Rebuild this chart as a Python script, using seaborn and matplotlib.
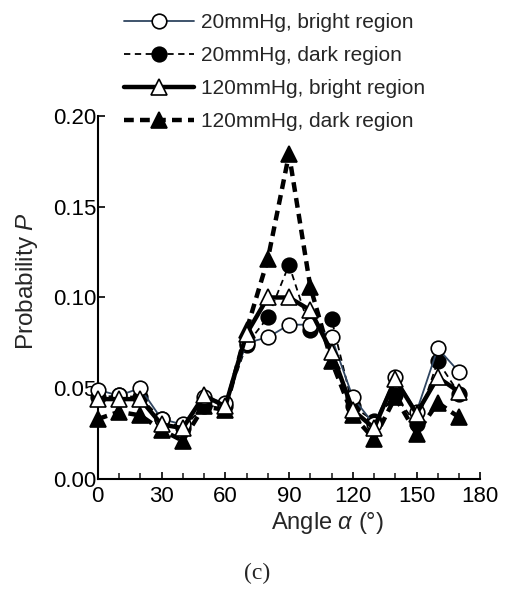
import numpy as np
import pandas as pd
import matplotlib
matplotlib.use("Agg")
import matplotlib.pyplot as plt
import seaborn as sns

angles = [0, 10, 20, 30, 40, 50, 60, 70, 80, 90, 100, 110, 120, 130, 140, 150, 160, 170]
p20_bright = [0.049, 0.046, 0.050, 0.033, 0.030, 0.045, 0.042, 0.075, 0.078, 0.085, 0.085, 0.078, 0.045, 0.030, 0.056, 0.037, 0.072, 0.059]
p20_dark = [0.045, 0.046, 0.045, 0.033, 0.028, 0.040, 0.040, 0.074, 0.089, 0.118, 0.082, 0.088, 0.040, 0.032, 0.046, 0.030, 0.065, 0.047]
p120_bright = [0.044, 0.044, 0.044, 0.030, 0.028, 0.046, 0.040, 0.080, 0.100, 0.100, 0.093, 0.070, 0.038, 0.028, 0.055, 0.036, 0.056, 0.048]
p120_dark = [0.033, 0.037, 0.035, 0.027, 0.021, 0.040, 0.038, 0.082, 0.121, 0.179, 0.106, 0.065, 0.035, 0.022, 0.045, 0.025, 0.042, 0.034]
labels = ["20mmHg, bright region", "20mmHg, dark region",
          "120mmHg, bright region", "120mmHg, dark region"]
xticks = [0, 30, 60, 90, 120, 150, 180]
yticks = [0.00, 0.05, 0.10, 0.15, 0.20]

sns.set_theme(style="ticks")
plt.rcParams["font.family"] = ["Liberation Sans", "DejaVu Sans"]
plt.rcParams["mathtext.fontset"] = "custom"
plt.rcParams["mathtext.it"] = "Liberation Sans:italic"
plt.rcParams["mathtext.rm"] = "Liberation Sans"

fig = plt.figure(figsize=(5.12, 5.92), dpi=100)
ax = fig.add_axes([0.191, 0.191, 0.747, 0.613])

styles = [
    dict(color="#2f4560", linestyle="-", linewidth=1.3, marker="o", markersize=10.5,
         markerfacecolor="white", markeredgecolor="black", markeredgewidth=1.2, zorder=4),
    dict(color="black", linestyle=(0, (3.5, 2.5)), linewidth=1.3, marker="o", markersize=10.5,
         markerfacecolor="black", markeredgecolor="black", markeredgewidth=1.2, zorder=3),
    dict(color="black", linestyle="-", linewidth=3.2, marker="^", markersize=11,
         markerfacecolor="white", markeredgecolor="black", markeredgewidth=1.2, zorder=5),
    dict(color="black", linestyle=(0, (2.2, 1.4)), linewidth=3.2, marker="^", markersize=11,
         markerfacecolor="black", markeredgecolor="black", markeredgewidth=1.2, zorder=2),
]
series = [p20_bright, p20_dark, p120_bright, p120_dark]
for vals, lab, st in zip(series, labels, styles):
    df = pd.DataFrame({"angle": angles, "P": vals})
    sns.lineplot(data=df, x="angle", y="P", ax=ax, label=lab, clip_on=False, **st)

ax.set_xlim(0, 180)
ax.set_ylim(0, 0.20)
ax.set_xticks(xticks)
ax.set_xticks(np.arange(0, 181, 10), minor=True)
ax.set_yticks(yticks)
ax.set_yticklabels([f"{v:.2f}" for v in yticks])
ax.tick_params(axis="both", direction="in", labelsize=16, length=5, width=1.2, colors="black")
ax.tick_params(axis="x", pad=5)
ax.tick_params(axis="y", pad=1)
ax.tick_params(axis="x", which="minor", direction="in", length=4, width=1.2)
for s in ["top", "right"]:
    ax.spines[s].set_visible(False)
for s in ["left", "bottom"]:
    ax.spines[s].set_linewidth(1.5)
    ax.spines[s].set_color("black")
ax.set_xlabel(r"Angle $\it{\alpha}$ (°)", fontsize=17)
ax.set_ylabel(r"Probability $\it{P}$", fontsize=17.5)
ax.xaxis.set_label_coords(0.6, -0.085)
ax.yaxis.set_label_coords(-0.15, 0.545)

leg = ax.legend(loc="upper left", bbox_to_anchor=(0.213, 1.003), bbox_transform=fig.transFigure,
                frameon=False, fontsize=15, handlelength=3.4, handletextpad=0.3,
                labelspacing=0.68, numpoints=1, borderpad=0.2)

fig.text(0.502, 0.032, "(c)", fontsize=17, family="Liberation Serif", ha="center", va="center")
fig.savefig("out.png", dpi=100)
